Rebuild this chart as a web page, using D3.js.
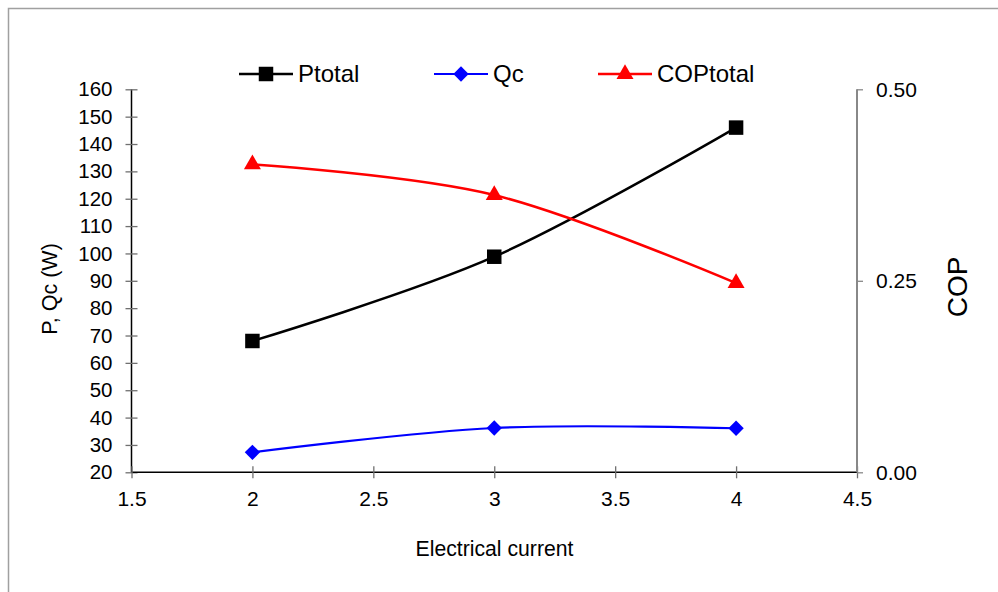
<!DOCTYPE html>
<html>
<head>
<meta charset="utf-8">
<script src="https://cdn.jsdelivr.net/npm/d3@7"></script>
<style>
  html, body { margin: 0; padding: 0; background: #fff; }
  svg { display: block; font-family: "Liberation Sans", Arial, sans-serif; }
</style>
</head>
<body>
<svg id="chart" width="998" height="592"></svg>
<script>
// Measured performance vs electrical current
const current   = [2, 3, 4];
const pTotal    = [68, 98.8, 146];
const qc        = [27.3, 36.2, 36.1];
const copTotal  = [0.402, 0.362, 0.247];

const xTicks     = [1.5, 2, 2.5, 3, 3.5, 4, 4.5];
const leftTicks  = [20, 30, 40, 50, 60, 70, 80, 90, 100, 110, 120, 130, 140, 150, 160];
const rightTicks = [0, 0.25, 0.5];

const seriesNames = ["Ptotal", "Qc", "COPtotal"];

const svg = d3.select("#chart");

// outer chart frame
svg.append("rect")
  .attr("x", 8.5).attr("y", 8.5)
  .attr("width", 1100).attr("height", 700)
  .attr("fill", "none").attr("stroke", "#a0a0a0").attr("stroke-width", 1.5);

const plot = { left: 131.5, right: 857, top: 89.3, bottom: 472.3 };

const x = d3.scaleLinear().domain([1.5, 4.5]).range([plot.left, plot.right]);
const yL = d3.scaleLinear().domain([20, 160]).range([plot.bottom, plot.top]);
const yR = d3.scaleLinear().domain([0, 0.5]).range([plot.bottom, plot.top]);

// left axis: black line, ticks crossing the line
const gL = svg.append("g").attr("transform", `translate(${plot.left},0)`)
  .call(d3.axisLeft(yL).tickValues(leftTicks).tickSize(6).tickPadding(13).tickFormat(d3.format("d")));
gL.select(".domain").attr("stroke", "#000").attr("stroke-width", 1.5).attr("d", `M0,${plot.top}V${plot.bottom}`);
gL.selectAll(".tick line").attr("x1", -6).attr("x2", 6).attr("stroke", "#707070").attr("stroke-width", 1.3);
gL.selectAll(".tick text").attr("font-size", 20.5).attr("fill", "#000");

// bottom axis
const gB = svg.append("g").attr("transform", `translate(0,${plot.bottom})`)
  .call(d3.axisBottom(x).tickValues(xTicks).tickSize(6).tickPadding(13).tickFormat(d => String(d)));
gB.select(".domain").attr("stroke", "#000").attr("stroke-width", 1.5).attr("d", `M${plot.left},0H${plot.right}`);
gB.selectAll(".tick line").attr("y1", -6).attr("y2", 6).attr("stroke", "#707070").attr("stroke-width", 1.3);
gB.selectAll(".tick text").attr("font-size", 21).attr("fill", "#000");

// right axis: gray line, outward ticks
const gR = svg.append("g").attr("transform", `translate(${plot.right},0)`)
  .call(d3.axisRight(yR).tickValues(rightTicks).tickSize(6).tickPadding(13).tickFormat(d3.format(".2f")));
gR.select(".domain").attr("stroke", "#888").attr("stroke-width", 2).attr("d", `M0,${plot.top}V${plot.bottom}`);
gR.selectAll(".tick line").attr("stroke", "#888").attr("stroke-width", 1.3);
gR.selectAll(".tick text").attr("font-size", 21).attr("fill", "#000");

// axis titles
svg.append("text").attr("x", 494.5).attr("y", 556).attr("text-anchor", "middle")
  .attr("font-size", 21.2).text("Electrical current");
svg.append("text").attr("transform", "translate(57,289) rotate(-90)").attr("text-anchor", "middle")
  .attr("font-size", 21.5).text("P, Qc (W)");
svg.append("text").attr("transform", "translate(967,287) rotate(-90)").attr("text-anchor", "middle")
  .attr("font-size", 28).text("COP");

const smooth = d3.curveCatmullRom.alpha(0);

function drawSeries(values, yScale, color, width) {
  const pts = current.map((c, i) => [x(c), yScale(values[i])]);
  svg.append("path").attr("d", d3.line().curve(smooth)(pts))
    .attr("fill", "none").attr("stroke", color).attr("stroke-width", width);
  return pts;
}

const symSquare = d3.symbol().type(d3.symbolSquare).size(210);
const symDiamond = d3.symbol().type(d3.symbolDiamond2).size(150);
const symTri = d3.symbol().type(d3.symbolTriangle).size(125);

const pPts = drawSeries(pTotal, yL, "#000", 2.5);
const qPts = drawSeries(qc, yL, "#0000ff", 2.2);
const cPts = drawSeries(copTotal, yR, "#ff0000", 2.5);

svg.selectAll(".mk-p").data(pPts).join("path").attr("class", "mk-p")
  .attr("transform", d => `translate(${d[0]},${d[1]})`).attr("d", symSquare).attr("fill", "#000");
svg.selectAll(".mk-q").data(qPts).join("path").attr("class", "mk-q")
  .attr("transform", d => `translate(${d[0]},${d[1]})`).attr("d", symDiamond).attr("fill", "#0000ff");
svg.selectAll(".mk-c").data(cPts).join("path").attr("class", "mk-c")
  .attr("transform", d => `translate(${d[0]},${d[1]})`).attr("d", symTri).attr("fill", "#ff0000");

// legend
const legendItems = [
  { name: seriesNames[0], x0: 239, color: "#000", sym: symSquare, w: 2.5 },
  { name: seriesNames[1], x0: 434, color: "#0000ff", sym: symDiamond, w: 2.2 },
  { name: seriesNames[2], x0: 598, color: "#ff0000", sym: symTri, w: 2.5 }
];
const ly = 74;
const lg = svg.append("g");
legendItems.forEach(it => {
  lg.append("line").attr("x1", it.x0).attr("x2", it.x0 + 54).attr("y1", ly).attr("y2", ly)
    .attr("stroke", it.color).attr("stroke-width", it.w);
  lg.append("path").attr("transform", `translate(${it.x0 + 27},${ly})`).attr("d", it.sym).attr("fill", it.color);
  lg.append("text").attr("x", it.x0 + 59).attr("y", ly).attr("dy", "0.35em")
    .attr("font-size", 24).text(it.name);
});
</script>
</body>
</html>
